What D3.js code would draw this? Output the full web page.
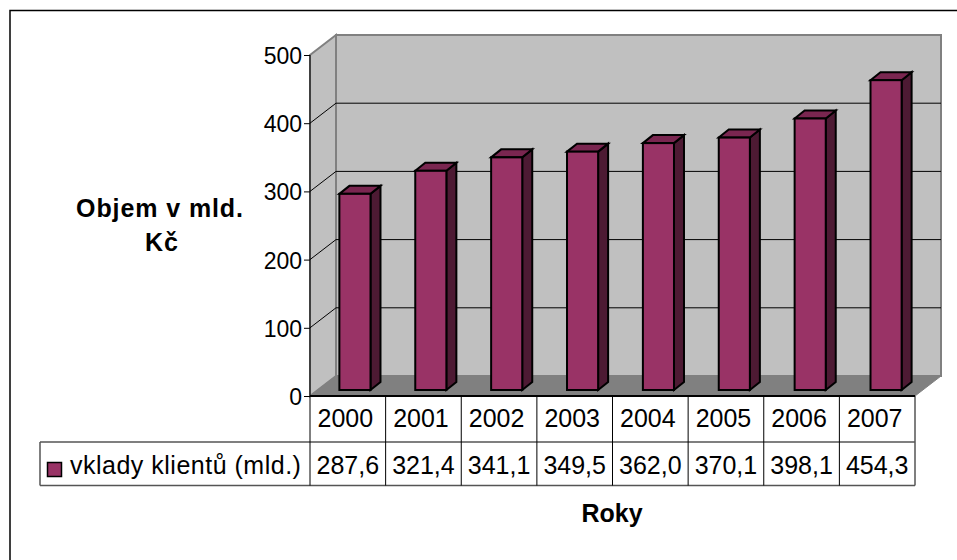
<!DOCTYPE html>
<html>
  <meta charset="utf-8" />
  <script src="https://d3js.org/d3.v7.min.js"></script>
  <style>
    html, body { margin: 0; padding: 0; background: #fff; }
    svg { display: block; }
    text { font-family: "Liberation Sans", Arial, sans-serif; fill: #000; }
  </style>
  <body>
    <svg id="chart" width="957" height="560"></svg>
    <script>
      const years = ["2000", "2001", "2002", "2003", "2004", "2005", "2006", "2007"];
      const deposits = [287.6, 321.4, 341.1, 349.5, 362.0, 370.1, 398.1, 454.3];
      const depositLabels = ["287,6", "321,4", "341,1", "349,5", "362,0", "370,1", "398,1", "454,3"];
      const yTicks = [0, 100, 200, 300, 400, 500];
      const seriesName = "vklady klientů (mld.)";

      const depth = { x: 26, y: 20 };
      const barDepth = { x: 10, y: 8 };
      const barLift = { x: 7, y: 6 };
      const fontSize = 23;
      const tableFont = 25;

      const svg = d3.select("#chart");

      // bars run on a slightly wider step than the table columns
      const x = d3.scaleBand().domain(years).range([310, 917]).paddingInner(0.59).paddingOuter(0.295);
      const cols = d3.scaleBand().domain(years).range([310, 915]);
      const y = d3.scaleLinear().domain([0, 500]).range([396, 55]);

      const [left, right] = cols.range();
      const wallTop = y(500);
      const bottom = y(0);

      // outer frame, top and left edges only
      svg.append("path")
        .attr("d", "M10,560V10.5H957")
        .attr("fill", "none")
        .attr("stroke", "#000")
        .attr("stroke-width", 1.5);

      const poly = (pts, fill, stroke, w) => svg.append("polygon")
        .attr("points", pts.map((p) => p.join(",")).join(" "))
        .attr("fill", fill)
        .attr("stroke", stroke || "none")
        .attr("stroke-width", w || 1)
        .attr("stroke-linejoin", "miter");

      // walls and floor
      poly([[left + depth.x, wallTop - depth.y], [right + depth.x, wallTop - depth.y], [right + depth.x, bottom - depth.y], [left + depth.x, bottom - depth.y]], "#c0c0c0", "#808080", 2);
      poly([[left, wallTop], [left + depth.x, wallTop - depth.y], [left + depth.x, bottom - depth.y], [left, bottom]], "#c0c0c0", "#808080", 2);
      poly([[left, bottom], [left + depth.x, bottom - depth.y], [right + depth.x, bottom - depth.y], [right, bottom]], "#808080", "#808080", 1);

      // gridlines
      yTicks.filter((d) => d > 0 && d < 500).forEach((d) => {
        svg.append("path")
          .attr("d", `M${left},${y(d)}L${left + depth.x},${y(d) - depth.y}L${right + depth.x},${y(d) - depth.y}`)
          .attr("fill", "none")
          .attr("stroke", "#000")
          .attr("stroke-width", 1);
      });

      // y axis
      const axis = svg.append("g")
        .attr("transform", `translate(${left},0)`)
        .call(d3.axisLeft(y).tickValues(yTicks).tickSize(6).tickPadding(2));
      axis.select(".domain").attr("stroke", "#000").attr("d", `M0,${wallTop}V${bottom}`);
      axis.selectAll("text")
        .attr("dy", "0.37em")
        .style("font-family", '"Liberation Sans", Arial, sans-serif')
        .style("font-size", fontSize + "px");
      axis.selectAll("line").attr("stroke", "#000");

      // bars
      const bars = svg.selectAll(".bar").data(deposits).enter().append("g").attr("class", "bar");
      const bx = (i) => x(years[i]) + barLift.x;
      const w = x.bandwidth();
      const by = (d) => y(d) - barLift.y;
      const base = y(0) - barLift.y;

      bars.append("polygon")
        .attr("points", (d, i) => [[bx(i) + w, by(d)], [bx(i) + w + barDepth.x, by(d) - barDepth.y], [bx(i) + w + barDepth.x, base - barDepth.y], [bx(i) + w, base]].join(" "))
        .attr("fill", "#4d1a33").attr("stroke", "#000").attr("stroke-width", 2);
      bars.append("polygon")
        .attr("points", (d, i) => [[bx(i), by(d)], [bx(i) + barDepth.x, by(d) - barDepth.y], [bx(i) + w + barDepth.x, by(d) - barDepth.y], [bx(i) + w, by(d)]].join(" "))
        .attr("fill", "#7a2650").attr("stroke", "#000").attr("stroke-width", 2);
      bars.append("rect")
        .attr("x", (d, i) => bx(i))
        .attr("y", (d) => by(d))
        .attr("width", w)
        .attr("height", (d) => base - by(d))
        .attr("fill", "#993366").attr("stroke", "#000").attr("stroke-width", 2);

      // data table
      const rowTop = 396, rowMid = 442, rowBottom = 485.5, legendLeft = 40;
      const line = (x1, y1, x2, y2, color, width) => svg.append("line")
        .attr("x1", x1).attr("y1", y1).attr("x2", x2).attr("y2", y2)
        .attr("stroke", color).attr("stroke-width", width || 1);

      line(legendLeft, rowMid, right, rowMid, "#555", 1.5);
      line(legendLeft, rowBottom, right, rowBottom, "#555", 1.5);
      line(legendLeft, rowMid, legendLeft, rowBottom, "#555", 1.5);
      line(right, rowTop, right, rowBottom, "#555", 1.5);
      years.forEach((yr) => line(cols(yr), rowTop, cols(yr), rowBottom, "#000"));
      line(left, rowTop, right, rowTop, "#000", 2);

      svg.selectAll(".year").data(years).enter().append("text")
        .attr("class", "year")
        .attr("x", (d) => cols(d) + cols.bandwidth() / 2 - 2.5)
        .attr("y", 426.5)
        .attr("text-anchor", "middle")
        .style("font-size", tableFont + "px")
        .text((d) => d);

      svg.selectAll(".val").data(depositLabels).enter().append("text")
        .attr("class", "val")
        .attr("x", (d, i) => cols(years[i]) + cols.bandwidth() / 2)
        .attr("y", 474)
        .attr("text-anchor", "middle")
        .style("font-size", tableFont + "px")
        .text((d) => d);

      // legend
      svg.append("rect")
        .attr("x", 47.5).attr("y", 462.5).attr("width", 14).attr("height", 14)
        .attr("fill", "#993366").attr("stroke", "#000").attr("stroke-width", 1.5);
      svg.append("text").attr("x", 70).attr("y", 474)
        .style("font-size", tableFont + "px")
        .style("letter-spacing", "0.5px")
        .text(seriesName);

      // axis titles
      const yTitle = svg.append("text")
        .attr("text-anchor", "middle")
        .style("font-size", tableFont + "px")
        .style("font-weight", "bold")
        .style("letter-spacing", "0.9px");
      yTitle.append("tspan").attr("x", 160).attr("y", 217).text("Objem v mld.");
      yTitle.append("tspan").attr("x", 162).attr("y", 251).text("Kč");

      svg.append("text")
        .attr("x", 612).attr("y", 522)
        .attr("text-anchor", "middle")
        .style("font-size", tableFont + "px")
        .style("font-weight", "bold")
        .text("Roky");
    </script>
  </body>
</html>
